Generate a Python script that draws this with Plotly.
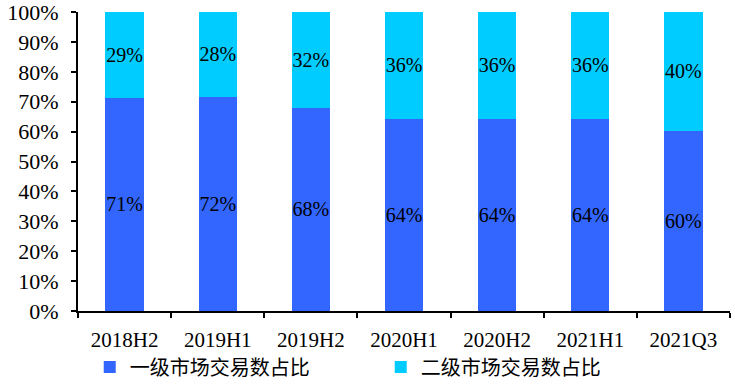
import plotly.graph_objects as go

categories = ["2018H2", "2019H1", "2019H2", "2020H1", "2020H2", "2021H1", "2021Q3"]
primary_share = [71.4, 71.6, 68.0, 64.3, 64.3, 64.3, 60.3]
secondary_share = [28.6, 28.4, 32.0, 35.7, 35.7, 35.7, 39.7]
primary_labels = ["71%", "72%", "68%", "64%", "64%", "64%", "60%"]
secondary_labels = ["29%", "28%", "32%", "36%", "36%", "36%", "40%"]
series_names = ["一级市场交易数占比", "二级市场交易数占比"]
y_ticks = [0, 10, 20, 30, 40, 50, 60, 70, 80, 90, 100]

serif = "Liberation Serif, Times New Roman, serif"
cjk = "Noto Sans CJK SC"

fig = go.Figure()
fig.add_trace(go.Bar(
    x=categories, y=primary_share, name=series_names[0],
    marker=dict(color="#3366FF", line=dict(width=0)),
    text=primary_labels, textposition="inside", insidetextanchor="middle",
    textangle=0, constraintext="none",
    textfont=dict(family=serif, size=20, color="black"),
))
fig.add_trace(go.Bar(
    x=categories, y=secondary_share, name=series_names[1],
    marker=dict(color="#00CCFF", line=dict(width=0)),
    text=secondary_labels, textposition="inside", insidetextanchor="middle",
    textangle=0, constraintext="none",
    textfont=dict(family=serif, size=20, color="black"),
))

fig.update_layout(
    barmode="stack",
    bargap=0.59,
    width=735, height=391,
    margin=dict(l=78, r=5, t=12, b=80, autoexpand=False),
    plot_bgcolor="white", paper_bgcolor="white",
    showlegend=True,
    legend=dict(
        orientation="h", x=0.018, xanchor="left", y=-0.187, yanchor="middle",
        font=dict(family=cjk, size=20, color="black"),
        entrywidth=246, entrywidthmode="pixels",
        traceorder="normal",
    ),
    xaxis=dict(
        showline=True, linecolor="black", linewidth=2,
        ticks="outside", ticklen=5, tickwidth=2, tickcolor="black",
        tickson="boundaries", automargin=False, ticklabeloverflow="allow",
        tickfont=dict(family=serif, size=21, color="black"),
        showgrid=False,
        ticklabelstandoff=9,
    ),
    yaxis=dict(
        range=[0, 100], automargin=False, ticklabeloverflow="allow",
        tickvals=y_ticks, ticktext=[f"{v}%" for v in y_ticks],
        showline=True, linecolor="black", linewidth=2,
        ticks="outside", ticklen=5, tickwidth=2, tickcolor="black",
        tickfont=dict(family=serif, size=22, color="black"),
        showgrid=False, zeroline=False,
        ticklabelstandoff=8,
    ),
)

fig.write_html("out.html", config={"displayModeBar": False},
               post_script="document.body.style.margin='0';")
